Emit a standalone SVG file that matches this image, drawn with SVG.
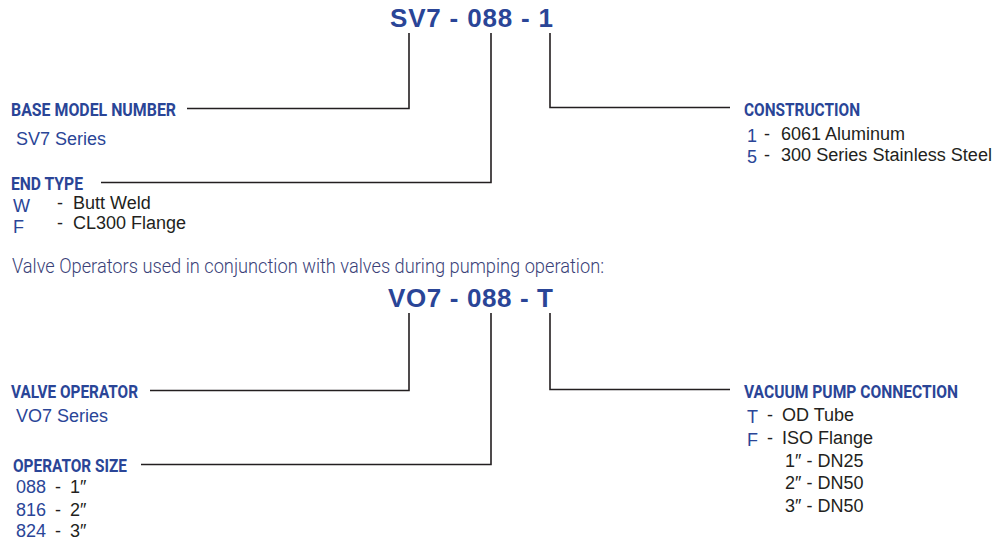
<svg xmlns="http://www.w3.org/2000/svg" width="995" height="542" viewBox="0 0 995 542">
<style>
.code{font-family:"Liberation Sans",Arial,sans-serif;font-weight:bold;font-size:26px;fill:#2a4597}
.hd{font-family:Roboto,"Liberation Sans",sans-serif;font-weight:bold;font-size:19px;fill:#2a4597}
.bl{font-family:"Liberation Sans",Arial,sans-serif;font-size:18px;fill:#2a4597}
.tx{font-family:"Liberation Sans",Arial,sans-serif;font-size:18px;fill:#231f20}
.intro{font-family:Roboto,"Liberation Sans",sans-serif;font-weight:300;font-size:21px;fill:#3a3f78}
.ln{fill:none;stroke:#231f20;stroke-width:1.6}
</style>
<rect width="995" height="542" fill="#ffffff"/>
<g id="code1"><text class="code" x="390" y="27" textLength="163" lengthAdjust="spacing">SV7 - 088 - 1</text></g>
<g id="base-model">
<text class="hd" x="11" y="116" textLength="165" lengthAdjust="spacingAndGlyphs">BASE MODEL NUMBER</text>
<text class="bl" x="16" y="145">SV7 Series</text>
</g>
<g id="end-type">
<text class="hd" x="11" y="190" textLength="72" lengthAdjust="spacingAndGlyphs">END TYPE</text>
<text class="bl" x="13" y="212">W</text><text class="tx" x="57" y="209">-</text><text class="tx" x="73" y="209">Butt Weld</text>
<text class="bl" x="13" y="233">F</text><text class="tx" x="57" y="229">-</text><text class="tx" x="73" y="229">CL300 Flange</text>
</g>
<g id="construction">
<text class="hd" x="744" y="116" textLength="116" lengthAdjust="spacingAndGlyphs">CONSTRUCTION</text>
<text class="bl" x="747" y="142">1</text><text class="tx" x="764" y="140">-</text><text class="tx" x="781" y="140">6061 Aluminum</text>
<text class="bl" x="747" y="163">5</text><text class="tx" x="764" y="161">-</text><text class="tx" x="781" y="161" textLength="211" lengthAdjust="spacingAndGlyphs">300 Series Stainless Steel</text>
</g>
<g id="intro"><text class="intro" x="12" y="273" textLength="592" lengthAdjust="spacingAndGlyphs">Valve Operators used in conjunction with valves during pumping operation:</text></g>
<g id="code2"><text class="code" x="388" y="307" textLength="165" lengthAdjust="spacing">VO7 - 088 - T</text></g>
<g id="valve-operator">
<text class="hd" x="11" y="398" textLength="127" lengthAdjust="spacingAndGlyphs">VALVE OPERATOR</text>
<text class="bl" x="16" y="422">VO7 Series</text>
</g>
<g id="operator-size">
<text class="hd" x="13" y="472" textLength="114" lengthAdjust="spacingAndGlyphs">OPERATOR SIZE</text>
<text class="bl" x="16" y="493">088</text><text class="tx" x="55" y="493">-</text><text class="tx" x="70" y="493">1″</text>
<text class="bl" x="16" y="516">816</text><text class="tx" x="55" y="516">-</text><text class="tx" x="70" y="516">2″</text>
<text class="bl" x="16" y="537">824</text><text class="tx" x="55" y="537">-</text><text class="tx" x="70" y="537">3″</text>
</g>
<g id="vacuum-pump">
<text class="hd" x="744" y="398" font-size="18" textLength="214" lengthAdjust="spacingAndGlyphs">VACUUM PUMP CONNECTION</text>
<text class="bl" x="747" y="423">T</text><text class="tx" x="767" y="421">-</text><text class="tx" x="782" y="421">OD Tube</text>
<text class="bl" x="747" y="446">F</text><text class="tx" x="767" y="444">-</text><text class="tx" x="782" y="444">ISO Flange</text>
<text class="tx" x="785" y="467">1″ - DN25</text>
<text class="tx" x="785" y="489">2″ - DN50</text>
<text class="tx" x="785" y="512">3″ - DN50</text>
</g>
<g id="connectors">
<polyline class="ln" points="187,108.5 409,108.5 409,33"/>
<polyline class="ln" points="101,182.5 491,182.5 491,33"/>
<polyline class="ln" points="550,33 550,107.5 730,107.5"/>
<polyline class="ln" points="150,390.5 409,390.5 409,313"/>
<polyline class="ln" points="141,464.5 491,464.5 491,313"/>
<polyline class="ln" points="550,313 550,389.5 730,389.5"/>
</g>
</svg>
